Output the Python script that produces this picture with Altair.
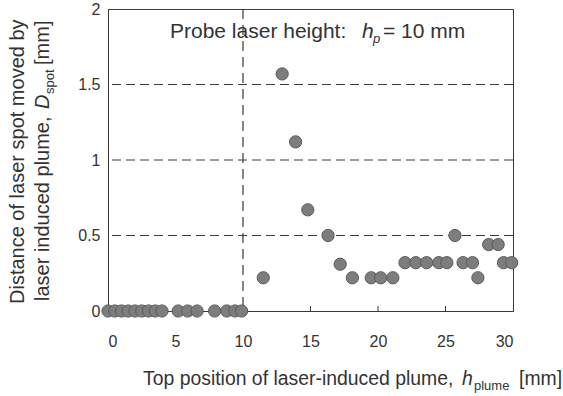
import altair as alt
import pandas as pd

# ---- data ----
h_plume = [0, 0.5, 1.0, 1.5, 2.0, 2.5, 3.0, 3.5, 4.0, 5.2, 5.9, 6.6, 7.9, 8.8, 9.4, 9.9,
           11.5, 12.9, 13.9, 14.8, 16.3, 17.2, 18.1, 19.5, 20.2, 21.1,
           22.0, 22.8, 23.6, 24.5, 25.1, 25.7, 26.3, 27.0, 27.4, 28.2, 28.9, 29.3, 29.9]
d_spot = [0, 0, 0, 0, 0, 0, 0, 0, 0, 0, 0, 0, 0, 0, 0, 0,
          0.22, 1.57, 1.12, 0.67, 0.50, 0.31, 0.22, 0.22, 0.22, 0.22,
          0.32, 0.32, 0.32, 0.32, 0.32, 0.50, 0.32, 0.32, 0.22, 0.44, 0.44, 0.32, 0.32]
grid_y = [0.5, 1.0, 1.5]
probe_height = [10]
x_ticks = [0, 5, 10, 15, 20, 25, 30]
y_ticks = [0, 0.5, 1, 1.5, 2]

W, H = 405, 302
FONT = "Liberation Sans"
TXT = "#333333"
LINE = "#3a3a3a"

pts = pd.DataFrame({"x": h_plume, "y": d_spot})

xs = alt.Scale(domain=[0, 30], nice=False)
ys = alt.Scale(domain=[0, 2], nice=False)

base_x = alt.X("x:Q", scale=xs, axis=alt.Axis(
    values=x_ticks, title=None, ticks=False, labelPadding=22, labelFontSize=16,
    labelColor=TXT, labelFont=FONT, domainColor=LINE, grid=False))
base_y = alt.Y("y:Q", scale=ys, axis=alt.Axis(
    values=y_ticks, title=None, ticks=False, labelPadding=8, labelFontSize=16,
    labelColor=TXT, labelFont=FONT, domainColor=LINE, grid=False, format="~g"))

points = alt.Chart(pts).mark_point(filled=True, size=150, color="#7d7d7d",
                                   stroke="#5a5a5a", strokeWidth=1, opacity=1).encode(
    x=base_x, y=base_y)

grid = alt.Chart(pd.DataFrame({"y": grid_y})).mark_rule(
    color=LINE, strokeDash=[9, 5], strokeWidth=1).encode(y=alt.Y("y:Q", scale=ys))

vline = alt.Chart(pd.DataFrame({"x": probe_height})).mark_rule(
    color=LINE, strokeDash=[10, 6], strokeWidth=1.2).encode(x=alt.X("x:Q", scale=xs))

inner_ticks = alt.Chart(pd.DataFrame({"x": x_ticks[1:-1]})).mark_rule(
    color=LINE, strokeWidth=1).encode(
    x=alt.X("x:Q", scale=xs), y=alt.value(H), y2=alt.value(H - 5))


def label(text, x, y, size=20, italic=False, angle=0, align="left"):
    return alt.Chart(pd.DataFrame({"t": [text]})).mark_text(
        font=FONT, fontSize=size, fontStyle="italic" if italic else "normal",
        color=TXT, align=align, baseline="alphabetic", angle=angle).encode(
        text="t:N", x=alt.value(x), y=alt.value(y))


# annotation
ann = [
    label("Probe laser height:", 62, 29, 21),
    label("h", 254, 29, 21, italic=True),
    label("p", 265, 34, 13, italic=True),
    label("= 10 mm", 275, 29, 21),
]

# x title
xt = [
    label("Top position of laser-induced plume,", 35, 376, 19.4),
    label("h", 354, 376, 19.4, italic=True),
    label("plume", 366, 381, 13),
    label("[mm]", 411, 376, 19.4),
]

# y title (rotated)
yt = [
    label("Distance of laser spot moved by", -84, 295, 20, angle=270),
    label("laser induced plume,", -59, 292, 20, angle=270),
    label("D", -59, 100, 20, italic=True, angle=270),
    label("spot", -54, 85, 13, angle=270),
    label("[mm]", -59, 56, 20, angle=270),
]

chart = alt.layer(grid, vline, inner_ticks, points, *ann, *xt, *yt).properties(
    width=W, height=H,
    padding={"left": 108, "top": 9, "right": 50, "bottom": 85},
    autosize=alt.AutoSizeParams(type="none"),
    background="white",
).configure_view(stroke=LINE, strokeWidth=1)

chart.save("out.html", embed_options={"renderer": "svg", "actions": False})
